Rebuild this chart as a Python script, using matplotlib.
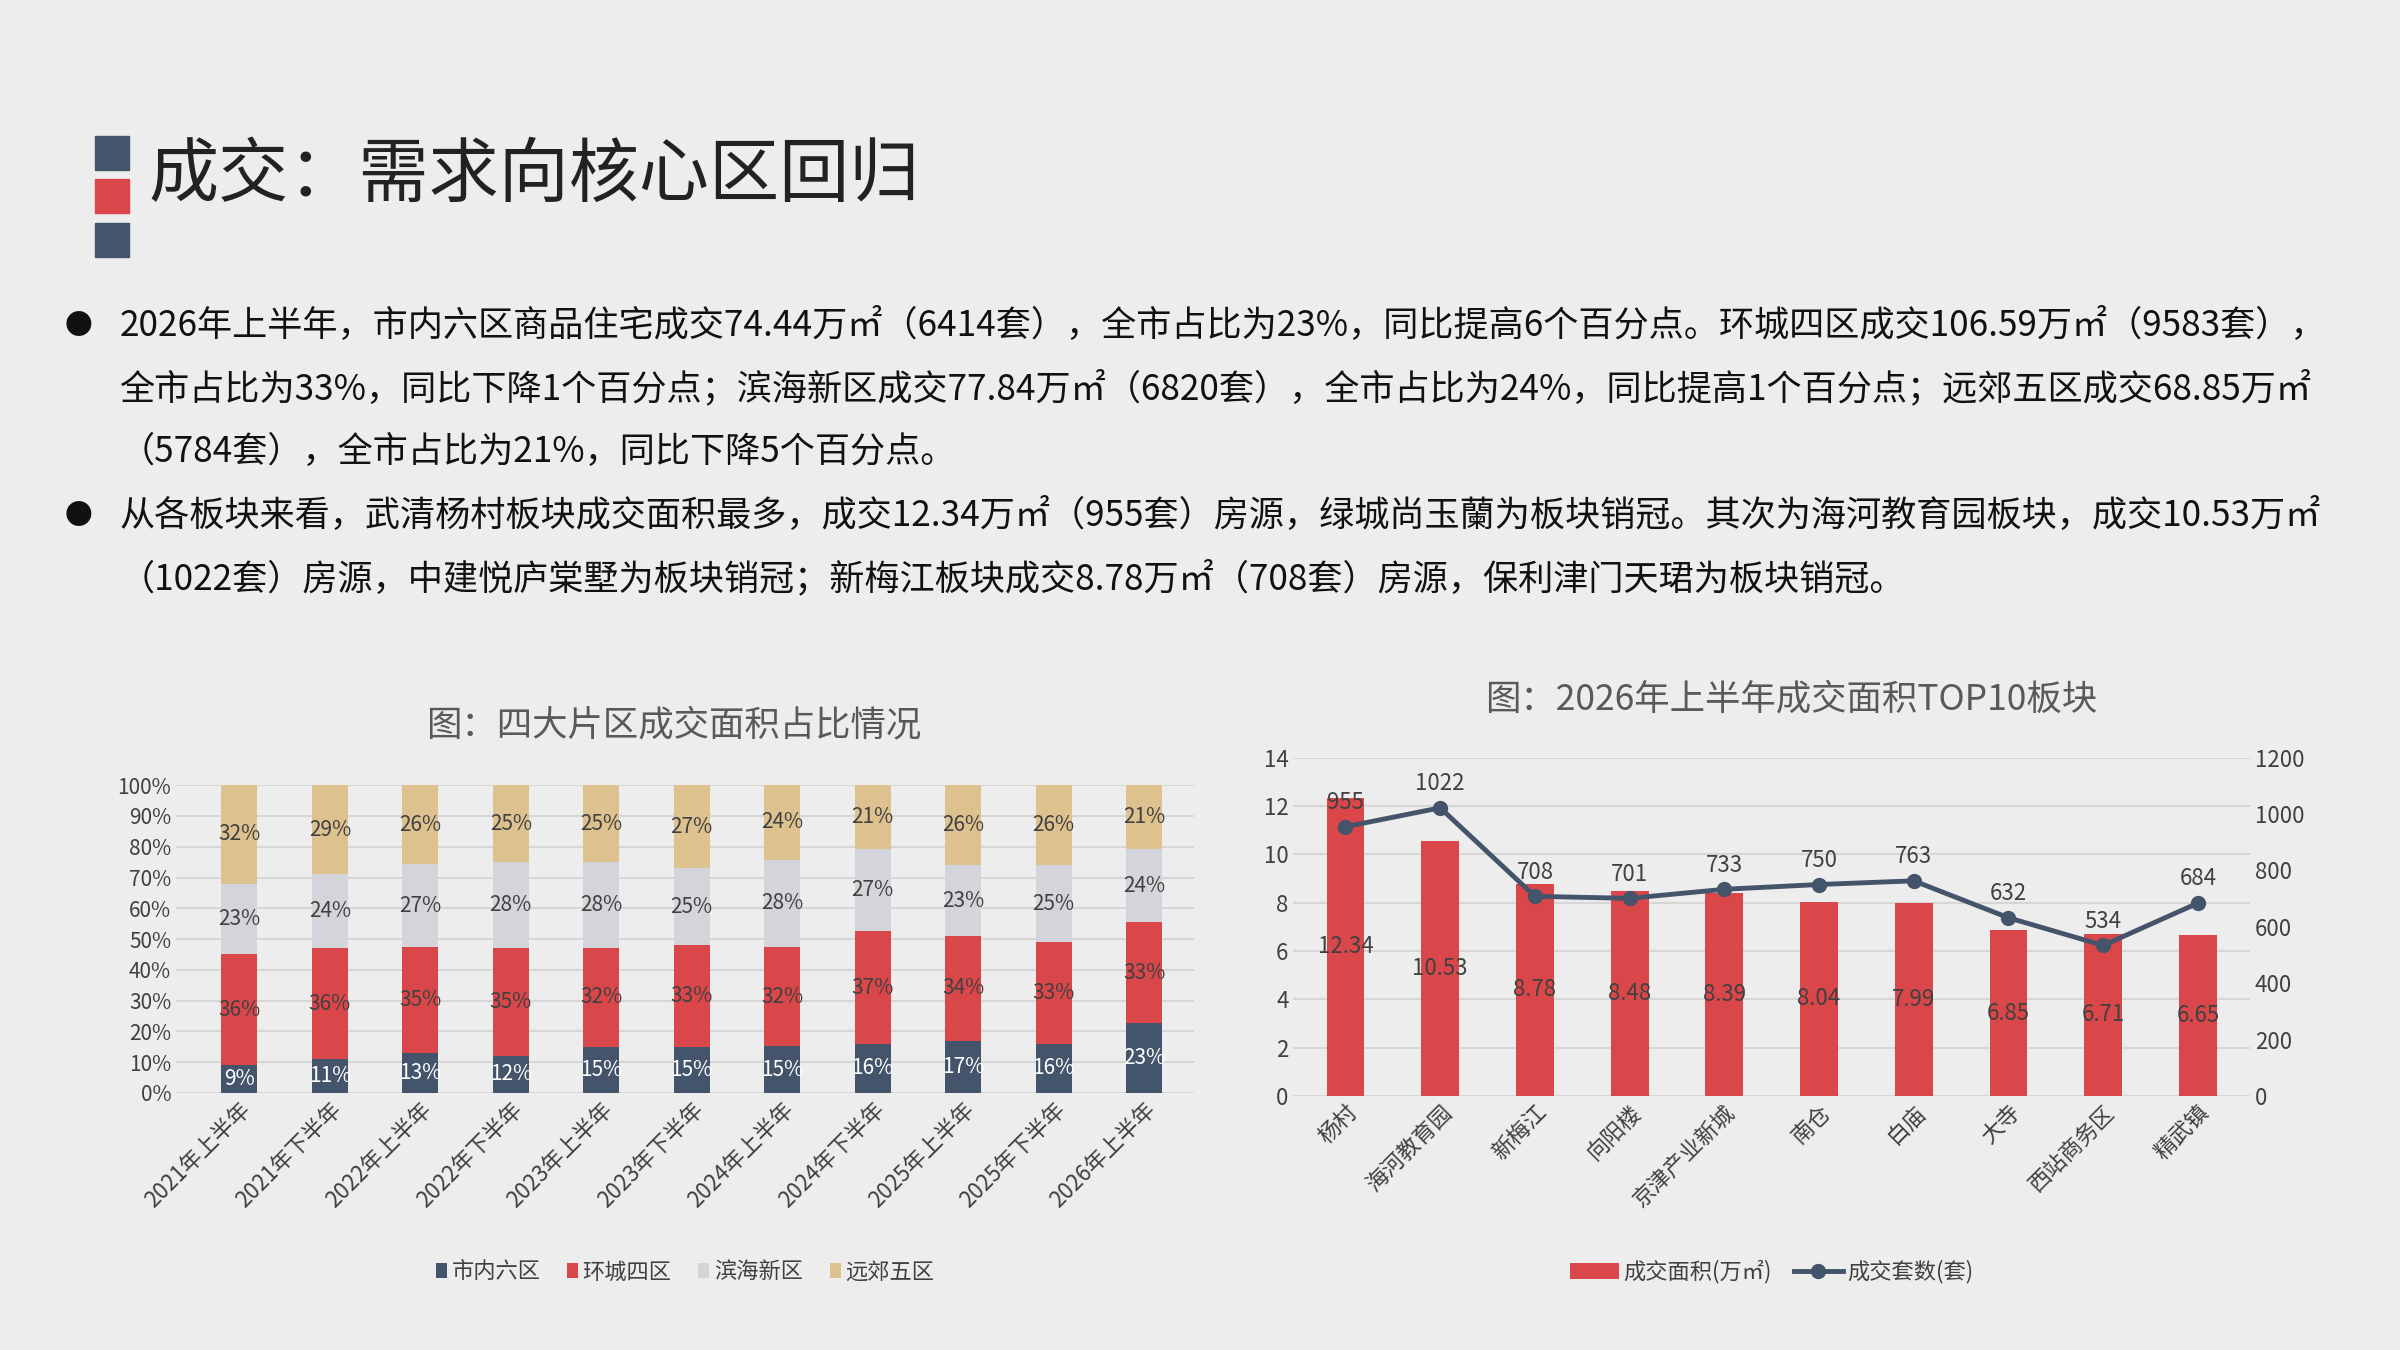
import numpy as np
import matplotlib
matplotlib.use("Agg")
import matplotlib.pyplot as plt
from matplotlib.patches import Rectangle

plt.rcParams['font.family'] = ['Noto Sans CJK SC', 'DejaVu Sans']

# ---------- 数据 ----------
periods = ["2021年上半年", "2021年下半年", "2022年上半年", "2022年下半年", "2023年上半年",
           "2023年下半年", "2024年上半年", "2024年下半年", "2025年上半年", "2025年下半年", "2026年上半年"]
share_core = [9, 11, 13, 12, 15, 15, 15, 16, 17, 16, 23]
share_ring = [36, 36, 35, 35, 32, 33, 32, 37, 34, 33, 33]
share_binhai = [23, 24, 27, 28, 28, 25, 28, 27, 23, 25, 24]
share_outer = [32, 29, 26, 25, 25, 27, 24, 21, 26, 26, 21]
region_names = ["市内六区", "环城四区", "滨海新区", "远郊五区"]

blocks = ["杨村", "海河教育园", "新梅江", "向阳楼", "京津产业新城", "南仓", "白庙", "大寺", "西站商务区", "精武镇"]
area = [12.34, 10.53, 8.78, 8.48, 8.39, 8.04, 7.99, 6.85, 6.71, 6.65]
units = [955, 1022, 708, 701, 733, 750, 763, 632, 534, 684]

C_BLUE = "#44546A"
C_RED = "#D9474A"
C_GRAY = "#D3D5DA"
C_TAN = "#DDC18F"
TXT = "#404040"

W, H = 1568, 882  # 参考图坐标换算
def fx(px): return px / W
def fy(py): return 1 - py / H

fig = plt.figure(figsize=(24, 13.5), dpi=100)
fig.patch.set_facecolor("#EDEDED")

# ---------- 标题 ----------
for py, c in [(100, C_BLUE), (128, C_RED), (157, C_BLUE)]:
    fig.patches.append(Rectangle((fx(62), fy(py + 11)), fx(22), 22 / H, color=c,
                                 transform=fig.transFigure, zorder=2))
fig.text(fx(97), fy(115), "成交：需求向核心区回归", fontsize=50.5, color="#222222", va="center")

lines = [
    (213, "●", "2026年上半年，市内六区商品住宅成交74.44万㎡（6414套），全市占比为23%，同比提高6个百分点。环城四区成交106.59万㎡（9583套），"),
    (254, "", "全市占比为33%，同比下降1个百分点；滨海新区成交77.84万㎡（6820套），全市占比为24%，同比提高1个百分点；远郊五区成交68.85万㎡"),
    (295, "", "（5784套），全市占比为21%，同比下降5个百分点。"),
    (337, "●", "从各板块来看，武清杨村板块成交面积最多，成交12.34万㎡（955套）房源，绿城尚玉蘭为板块销冠。其次为海河教育园板块，成交10.53万㎡"),
    (378, "", "（1022套）房源，中建悦庐棠墅为板块销冠；新梅江板块成交8.78万㎡（708套）房源，保利津门天珺为板块销冠。"),
]
for py, b, t in lines:
    if b:
        fig.text(fx(42), fy(py), b, fontsize=20, color="#111111", va="center")
    fig.text(fx(78), fy(py), t, fontsize=25.3, color="#111111", va="center")

# ---------- 左图：堆积柱 ----------
ax1 = fig.add_axes([fx(115), fy(714), fx(780) - fx(115), (714 - 513) / H])
ax1.set_facecolor("none")
x = np.arange(len(periods))
series = [share_core, share_ring, share_binhai, share_outer]
colors = [C_BLUE, C_RED, C_GRAY, C_TAN]
totals = np.sum(series, axis=0)
bottom = np.zeros(len(periods))
for vals, col, name in zip(series, colors, region_names):
    h = np.array(vals) / totals * 100
    ax1.bar(x, h, 0.4, bottom=bottom, color=col, label=name, zorder=3)
    for xi, b, hi, v in zip(x, bottom, h, vals):
        tc = "white" if col == C_BLUE else TXT
        ax1.text(xi, b + hi / 2, f"{v}%", ha="center", va="center", fontsize=15, color=tc, zorder=4)
    bottom += h
ax1.set_ylim(0, 100)
ax1.set_xlim(-0.7, len(periods) - 0.45)
ax1.set_yticks(range(0, 101, 10))
ax1.set_yticklabels([f"{v}%" for v in range(0, 101, 10)], fontsize=15, color=TXT)
ax1.set_xticks(x)
ax1.set_xticklabels(periods, rotation=45, ha="right", rotation_mode="anchor", fontsize=16, color=TXT)
ax1.grid(axis="y", color="#D6D6D6", lw=1.5, zorder=0)
for s in ax1.spines.values():
    s.set_visible(False)
ax1.tick_params(length=0)
fig.text(fx(440), fy(474), "图：四大片区成交面积占比情况", fontsize=25.5, color="#595959", ha="center", va="center")
ax1.legend(loc="center", bbox_to_anchor=(0.5, (714 - 831) / (714 - 513)), ncol=4, frameon=False,
           fontsize=16, handlelength=0.5, handletextpad=0.2, columnspacing=1.2, labelcolor=TXT)

# ---------- 右图：柱线组合 ----------
ax2 = fig.add_axes([fx(845), fy(716), fx(1470) - fx(845), (716 - 495) / H])
ax2.set_facecolor("none")
xb = np.arange(len(blocks))
ax2.bar(xb, area, 0.4, color=C_RED, label="成交面积(万㎡)", zorder=3)
for xi, v in zip(xb, area):
    ax2.text(xi, v / 2, f"{v:.2f}", ha="center", va="center", fontsize=16, color=TXT, zorder=5)
ax2.set_ylim(0, 14)
ax2.set_yticks(range(0, 15, 2))
ax2.set_xlim(-0.55, len(blocks) - 0.45)
ax2.set_xticks(xb)
ax2.set_xticklabels(blocks, rotation=45, ha="right", rotation_mode="anchor", fontsize=17, color=TXT)
ax2.tick_params(length=0, labelsize=16, labelcolor=TXT)
ax2.grid(axis="y", color="#D6D6D6", lw=1.5, zorder=0)
for s in ax2.spines.values():
    s.set_visible(False)

ax3 = ax2.twinx()
ax3.plot(xb, units, color=C_BLUE, lw=3.5, marker="o", ms=10, label="成交套数(套)", zorder=6)
for xi, v in zip(xb, units):
    ax3.text(xi, v + 45, f"{v}", ha="center", va="bottom", fontsize=16, color=TXT)
ax3.set_ylim(0, 1200)
ax3.set_yticks(range(0, 1201, 200))
ax3.tick_params(length=0, labelsize=16, labelcolor=TXT)
for s in ax3.spines.values():
    s.set_visible(False)
fig.text(fx(1170), fy(457), "图：2026年上半年成交面积TOP10板块", fontsize=25.5, color="#595959", ha="center", va="center")

h1, l1 = ax2.get_legend_handles_labels()
h2, l2 = ax3.get_legend_handles_labels()
ax2.legend(h1 + h2, l1 + l2, loc="center", bbox_to_anchor=(0.5, (716 - 831) / (716 - 495)), ncol=2,
           frameon=False, fontsize=16, handlelength=2.2, handletextpad=0.2, columnspacing=1.0, labelcolor=TXT)

fig.savefig("out.png", dpi=100, facecolor=fig.get_facecolor())
